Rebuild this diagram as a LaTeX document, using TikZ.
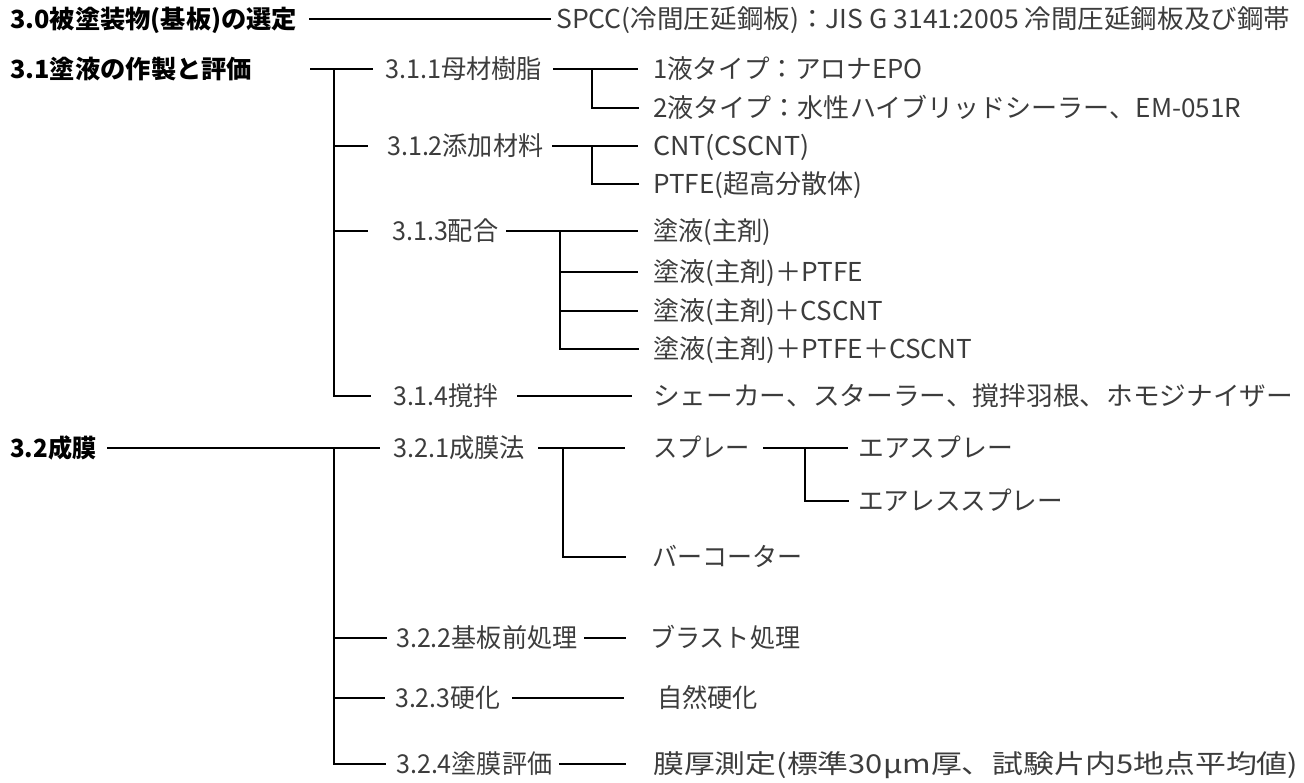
\documentclass[tikz,border=0pt]{standalone}
\usepackage{fontspec}
\usepackage{graphicx}
\setmainfont{Noto Sans CJK JP}
\definecolor{txtgray}{HTML}{3C3C3C}
\newcommand{\fw}[2]{\resizebox{#1pt}{\height}{#2}}
\begin{document}
\begin{tikzpicture}[x=1pt,y=-1pt,
  hd/.style={anchor=west,inner sep=0pt,font=\fontsize{25}{29}\selectfont\bfseries,text=black,text height=22pt,text depth=3pt},
  lb/.style={anchor=west,inner sep=0pt,font=\fontsize{26}{30}\selectfont,text=txtgray,text height=22.9pt,text depth=3.1pt},
  ln/.style={line width=2.7pt,black},
  lnj/.style={line width=2.7pt,black,line cap=rect,line join=miter}]
\useasboundingbox (0,0) rectangle (1304,783);
% rows
\def\ra{19}\def\rb{69}\def\rbb{108}\def\rc{146}\def\rcc{184}
\def\rd{231}\def\rdb{272}\def\rdc{311}\def\rdd{349}\def\re{396}
\def\rf{448}\def\rfb{501}\def\rfc{557}\def\rg{638}\def\rh{698}\def\ri{764}
% 3.0
\node[hd] (h30) at (10,\ra) {\fw{287}{3.0被塗装物(基板)の選定}};
\node[lb] (spcc) at (556,\ra) {\fw{734}{SPCC(冷間圧延鋼板)：JIS G 3141:2005 冷間圧延鋼板及び鋼帯}};
\draw[ln] ([xshift=12pt]h30.east) -- ([xshift=-5pt]spcc.west);
% 3.1
\node[hd] (h31) at (10,\rb) {\fw{242}{3.1塗液の作製と評価}};
\coordinate (s31) at (310,\rb);
\coordinate (v31) at (334,\rb);
\coordinate (v31e) at (334,\re);
\node[lb] (n311) at (385,\rb) {\fw{157}{3.1.1母材樹脂}};
\node[lb] (n312) at (387,\rc) {\fw{156}{3.1.2添加材料}};
\node[lb] (n313) at (392,\rd) {\fw{106}{3.1.3配合}};
\node[lb] (n314) at (393,\re) {\fw{105}{3.1.4撹拌}};
\draw[ln] (s31) -- ([xshift=-12pt]n311.west);
\draw[lnj] (v31) -- (v31e) -- ([xshift=-23pt]n314.west);
\draw[ln] (v31 |- n312) -- ([xshift=-19pt]n312.west);
\draw[ln] (v31 |- n313) -- ([xshift=-24pt]n313.west);
% 3.1.1
\node[lb] (a1) at (653,\rb) {\fw{269}{1液タイプ：アロナEPO}};
\node[lb] (a2) at (653,\rbb) {\fw{588}{2液タイプ：水性ハイブリッドシーラー、EM-051R}};
\coordinate (j311) at (592,\rb);
\draw[ln] ([xshift=11pt]n311.east) -- ([xshift=-15pt]a1.west);
\draw[lnj] (j311) -- (j311 |- a2) -- ([xshift=-15pt]a2.west);
% 3.1.2
\node[lb] (b1) at (653,\rc) {\fw{156}{CNT(CSCNT)}};
\node[lb] (b2) at (653,\rcc) {\fw{209}{PTFE(超高分散体)}};
\coordinate (j312) at (592,\rc);
\draw[ln] ([xshift=9pt]n312.east) -- ([xshift=-15pt]b1.west);
\draw[lnj] (j312) -- (j312 |- b2) -- ([xshift=-15pt]b2.west);
% 3.1.3
\node[lb] (c1) at (653,\rd) {\fw{118}{塗液(主剤)}};
\node[lb] (c2) at (653,\rdb) {\fw{210}{塗液(主剤)＋PTFE}};
\node[lb] (c3) at (653,\rdc) {\fw{230}{塗液(主剤)＋CSCNT}};
\node[lb] (c4) at (653,\rdd) {\fw{319}{塗液(主剤)＋PTFE＋CSCNT}};
\coordinate (j313) at (560,\rd);
\draw[ln] ([xshift=8pt]n313.east) -- ([xshift=-15pt]c1.west);
\draw[lnj] (j313) -- (j313 |- c4) -- ([xshift=-15pt]c4.west);
\draw[ln] (j313 |- c2) -- ([xshift=-15pt]c2.west);
\draw[ln] (j313 |- c3) -- ([xshift=-15pt]c3.west);
% 3.1.4
\node[lb] (d1) at (653,\re) {\fw{640}{シェーカー、スターラー、撹拌羽根、ホモジナイザー}};
\draw[ln] ([xshift=19pt]n314.east) -- ([xshift=-21pt]d1.west);
% 3.2
\node[hd] (h32) at (10,\rf) {\fw{86}{3.2成膜}};
\coordinate (v32) at (334,\rf);
\coordinate (v32e) at (334,\ri);
\node[lb] (n321) at (393,\rf) {\fw{132}{3.2.1成膜法}};
\node[lb] (n322) at (396,\rg) {\fw{181}{3.2.2基板前処理}};
\node[lb] (n323) at (395,\rh) {\fw{105}{3.2.3硬化}};
\node[lb] (n324) at (396,\ri) {\fw{156}{3.2.4塗膜評価}};
\draw[ln] ([xshift=11pt]h32.east) -- ([xshift=-13pt]n321.west);
\draw[lnj] (v32) -- (v32e) -- ([xshift=-11pt]n324.west);
\draw[ln] (v32 |- n322) -- ([xshift=-9pt]n322.west);
\draw[ln] (v32 |- n323) -- ([xshift=-10pt]n323.west);
% 3.2.1
\node[lb] (e1) at (653,\rf) {\fw{97}{スプレー}};
\node[lb] (e2) at (652,\rfc) {\fw{150}{バーコーター}};
\coordinate (j321) at (563,\rf);
\draw[ln] ([xshift=13pt]n321.east) -- ([xshift=-28pt]e1.west);
\draw[lnj] (j321) -- (j321 |- e2) -- ([xshift=-27pt]e2.west);
\node[lb] (f1) at (858,\rf) {\fw{155}{エアスプレー}};
\node[lb] (f2) at (858,\rfb) {\fw{205}{エアレススプレー}};
\coordinate (j322) at (805,\rf);
\draw[ln] ([xshift=13pt]e1.east) -- ([xshift=-10pt]f1.west);
\draw[lnj] (j322) -- (j322 |- f2) -- ([xshift=-10pt]f2.west);
% 3.2.2-3.2.4
\node[lb] (g1) at (650,\rg) {\fw{150}{ブラスト処理}};
\node[lb] (g2) at (657,\rh) {\fw{101}{自然硬化}};
\node[lb] (g3) at (653,\ri) {\fw{645}{膜厚測定(標準30μm厚、試験片内5地点平均値)}};
\draw[ln] ([xshift=7pt]n322.east) -- ([xshift=-24pt]g1.west);
\draw[ln] ([xshift=12pt]n323.east) -- ([xshift=-33pt]g2.west);
\draw[ln] ([xshift=7pt]n324.east) -- ([xshift=-27pt]g3.west);
\end{tikzpicture}
\end{document}
